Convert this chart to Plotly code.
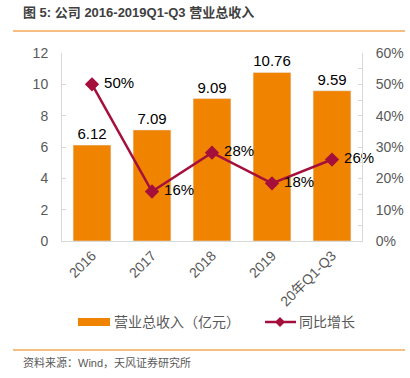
import plotly.graph_objects as go

categories = ["2016", "2017", "2018", "2019", "20年Q1-Q3"]
revenue = [6.12, 7.09, 9.09, 10.76, 9.59]
growth = [50.0, 15.8, 28.2, 18.4, 26.0]
left_ticks = [0, 2, 4, 6, 8, 10, 12]
right_ticks = [0, 10, 20, 30, 40, 50, 60]

BAR = "#F08300"
LINE = "#A50F3C"
GRAY = "#595959"
AXIS = "#D9D9D9"
FONT = "Liberation Sans, Noto Sans CJK SC, sans-serif"

PL, PR, PT, PB = 62, 362, 53, 241  # plot area in screen pixels
W, H = 410, 378

fig = go.Figure()
fig.add_trace(go.Bar(
    x=categories, y=revenue, marker_color=BAR, width=0.63,
    text=[f"{v:.2f}" for v in revenue], textposition="outside",
    textfont=dict(size=15, color="#000000"), cliponaxis=False,
    name="营业总收入（亿元）", showlegend=False,
))
fig.add_trace(go.Scatter(
    x=categories, y=growth, yaxis="y2", mode="lines+markers+text",
    line=dict(color=LINE, width=2.5),
    marker=dict(symbol="diamond", size=11, color=LINE),
    text=[f" {v:.0f}%" for v in growth], textposition="middle right",
    textfont=dict(size=15, color="#000000"), cliponaxis=False,
    name="同比增长", showlegend=False,
))

fig.update_layout(
    width=W, height=H,
    margin=dict(l=PL, r=W - PR, t=PT, b=H - PB, autoexpand=False),
    paper_bgcolor="white", plot_bgcolor="white",
    font=dict(family=FONT, color=GRAY, size=14),
    xaxis=dict(
        type="category", tickangle=-45, showline=True, linecolor=AXIS, linewidth=1,
        ticks="", tickfont=dict(size=14, color=GRAY), showgrid=False, automargin=False,
    ),
    yaxis=dict(
        range=[0, 12], tickvals=left_ticks, showline=True, linecolor=AXIS,
        ticks="inside", ticklen=4, tickcolor=AXIS, showgrid=False, zeroline=False,
        tickfont=dict(size=14, color=GRAY), ticklabelstandoff=10, automargin=False,
    ),
    yaxis2=dict(
        range=[0, 60], overlaying="y", side="right", tickvals=right_ticks,
        ticktext=[f"{t}%" for t in right_ticks],
        showline=True, linecolor=AXIS, ticks="inside", ticklen=4, tickcolor=AXIS,
        minor=dict(dtick=5, ticks="inside", ticklen=4, tickcolor=AXIS),
        showgrid=False, zeroline=False, tickfont=dict(size=14, color=GRAY),
        ticklabelstandoff=10, automargin=False,
    ),
    showlegend=False,
)

def px(x):
    return (x - PL) / (PR - PL)
def py(y):
    return (PB - y) / (PB - PT)

shapes = [
    dict(type="line", xref="paper", yref="paper", x0=px(13), x1=px(405), y0=py(31), y1=py(31),
         line=dict(color="#F5A85A", width=1.5)),
    dict(type="line", xref="paper", yref="paper", x0=px(13), x1=px(405), y0=py(350), y1=py(350),
         line=dict(color="#F5A85A", width=1.5)),
    dict(type="rect", xref="paper", yref="paper", x0=px(78), x1=px(110), y0=py(326), y1=py(318),
         fillcolor=BAR, line=dict(width=0)),
    dict(type="line", xref="paper", yref="paper", x0=px(265), x1=px(296), y0=py(322), y1=py(322),
         line=dict(color=LINE, width=2.5)),
    dict(type="path", xref="paper", yref="paper",
         path=f"M {px(280)},{py(317)} L {px(285)},{py(322)} L {px(280)},{py(327)} L {px(275)},{py(322)} Z",
         fillcolor=LINE, line=dict(width=0)),
]
annotations = [
    dict(text="<b>图 5: 公司 2016-2019Q1-Q3 营业总收入</b>", xref="paper", yref="paper",
         x=px(21), y=py(12), xanchor="left", yanchor="middle", showarrow=False,
         font=dict(size=13, color="#404040", family=FONT)),
    dict(text="营业总收入（亿元）", xref="paper", yref="paper", x=px(112), y=py(322),
         xanchor="left", yanchor="middle", showarrow=False, font=dict(size=14, color=GRAY)),
    dict(text="同比增长", xref="paper", yref="paper", x=px(297), y=py(322),
         xanchor="left", yanchor="middle", showarrow=False, font=dict(size=14, color=GRAY)),
    dict(text="资料来源：Wind，天风证券研究所", xref="paper", yref="paper", x=px(21), y=py(362),
         xanchor="left", yanchor="middle", showarrow=False, font=dict(size=11, color=GRAY)),
]
fig.update_layout(shapes=shapes, annotations=annotations)

fig.write_html("out.html", config={"displayModeBar": False},
               post_script="document.body.style.margin='0';document.body.style.overflow='hidden';")
